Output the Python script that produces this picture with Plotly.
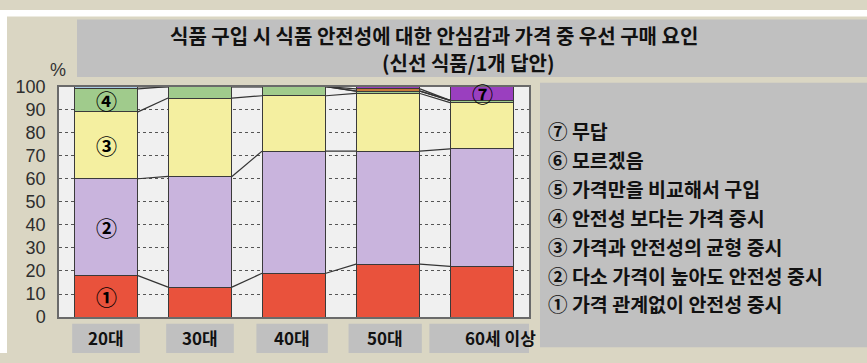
import plotly.graph_objects as go

# Age groups and response shares (%)
ages = ["20대", "30대", "40대", "50대", "60세 이상"]
s1 = [18, 13, 19, 23, 22]   # 가격 관계없이 안전성 중시
s2 = [42, 48, 53, 49, 51]   # 다소 가격이 높아도 안전성 중시
s3 = [29, 34, 24, 25, 20]   # 가격과 안전성의 균형 중시
s4 = [10, 5, 4, 1, 1]       # 안전성 보다는 가격 중시
s5 = [1, 0, 0, 0, 0]        # 가격만을 비교해서 구입
s6 = [0, 0, 0, 1, 0]        # 모르겠음
s7 = [0, 0, 0, 1, 6]        # 무답

marks = ["①", "②", "③", "④", "⑤", "⑥", "⑦"]
labels = [
    "가격 관계없이 안전성 중시",
    "다소 가격이 높아도 안전성 중시",
    "가격과 안전성의 균형 중시",
    "안전성 보다는 가격 중시",
    "가격만을 비교해서 구입",
    "모르겠음",
    "무답",
]
y_ticks = list(range(0, 101, 10))

series = [s1, s2, s3, s4, s5, s6, s7]
colors = ["#e9523c", "#c9b4dd", "#f4efa0", "#a0cb8c", "#a9c9e4", "#c57a3a", "#9a3fbf"]

W, H = 867, 363
BAR_W = 0.68
BG = "#dad6c3"
BOX = "#c0c0c0"
INK = "#111111"
FONT_KR = "Noto Sans CJK KR"


def fx(px):
    return px / W


def fy(py):
    return 1 - py / H


xs = list(range(len(ages)))
fig = go.Figure()

for vals, col, mk in zip(series, colors, marks):
    fig.add_trace(go.Bar(
        x=xs, y=vals, width=BAR_W, marker=dict(color=col, line=dict(color="#3a3a3a", width=1)),
        name=mk, showlegend=False, hoverinfo="skip",
    ))

# series lines joining segment boundaries of neighbouring bars
cum = []
run = [0] * len(ages)
for vals in series:
    run = [a + b for a, b in zip(run, vals)]
    cum.append(run)
for level in cum[:-1]:
    for i in range(len(ages) - 1):
        fig.add_trace(go.Scatter(
            x=[i + BAR_W / 2, i + 1 - BAR_W / 2], y=[level[i], level[i + 1]],
            mode="lines", line=dict(color="#333333", width=1.2),
            showlegend=False, hoverinfo="skip",
        ))

shapes = [
    # white page edge at top and left
    dict(type="rect", xref="paper", yref="paper", x0=0, x1=1, y0=fy(7), y1=1,
         fillcolor="#ffffff", line=dict(width=0), layer="below"),
    dict(type="rect", xref="paper", yref="paper", x0=0, x1=fx(7), y0=0, y1=1,
         fillcolor="#ffffff", line=dict(width=0), layer="below"),
    # title box
    dict(type="rect", xref="paper", yref="paper", x0=fx(77), x1=1, y0=fy(71), y1=fy(10),
         fillcolor=BOX, line=dict(width=0), layer="below"),
    # legend box
    dict(type="rect", xref="paper", yref="paper", x0=fx(540), x1=1, y0=fy(357), y1=fy(77),
         fillcolor=BOX, line=dict(width=0), layer="below"),
]

annotations = [
    dict(text="<b>식품 구입 시 식품 안전성에 대한 안심감과 가격 중 우선 구매 요인</b>", xref="paper", yref="paper",
         x=fx(434), y=fy(27), showarrow=False, font=dict(family=FONT_KR, size=20, color=INK),
         xanchor="center", yanchor="middle"),
    dict(text="<b>(신선 식품/1개 답안)</b>", xref="paper", yref="paper",
         x=fx(468), y=fy(56), showarrow=False, font=dict(family=FONT_KR, size=20, color=INK),
         xanchor="center", yanchor="middle"),
    dict(text="%", xref="paper", yref="paper", x=fx(58), y=fy(63), showarrow=False,
         font=dict(family="Liberation Sans", size=18, color="#333333"), xanchor="center", yanchor="middle"),
]

# category label boxes under each bar
box_half = [0.36, 0.36, 0.36, 0.36, 0.36]
box_extra_right = [0, 0, 0, 0, 0.6]
box_extra_left = [0, 0, 0.04, 0.06, 0.2]
for i, name in enumerate(ages):
    x0 = i - box_half[i] - box_extra_left[i]
    x1 = i + box_half[i] + box_extra_right[i]
    shapes.append(dict(type="rect", xref="x", yref="paper", x0=x0, x1=x1, y0=0, y1=fy(332),
                       fillcolor=BOX, line=dict(width=0), layer="below"))
    annotations.append(dict(text=f"<b>{name}</b>", xref="x", yref="paper", x=(x0 + x1) / 2, y=fy(347),
                            showarrow=False, font=dict(family=FONT_KR, size=17, color=INK),
                            xanchor="center", yanchor="middle"))

# legend entries, listed from ⑦ at the top down to ①
for k, idx in enumerate(range(len(labels) - 1, -1, -1)):
    annotations.append(dict(text=f"<b>{marks[idx]} {labels[idx]}</b>", xref="paper", yref="paper",
                            x=fx(546), y=fy(128 + 30.5 * k), showarrow=False,
                            font=dict(family=FONT_KR, size=19.5, color=INK),
                            xanchor="left", yanchor="middle"))

# segment markers inside bars
tags = [(0, 0), (1, 0), (2, 0), (3, 0), (6, 4)]
for si, bi in tags:
    top = cum[si][bi]
    mid = top - series[si][bi] / 2
    annotations.append(dict(text=f"<b>{marks[si]}</b>", x=xs[bi], y=mid, xref="x", yref="y",
                            showarrow=False, font=dict(family=FONT_KR, size=21, color="#000000"),
                            xanchor="center", yanchor="middle"))

fig.update_layout(
    width=W, height=H, autosize=False,
    margin=dict(l=0, r=0, t=0, b=0),
    paper_bgcolor=BG, plot_bgcolor="#f0f0f0",
    barmode="stack",
    shapes=shapes, annotations=annotations,
    xaxis=dict(domain=[fx(59), fx(529)], range=[-0.5, len(ages) - 0.5], showticklabels=False,
               showgrid=False, zeroline=False, showline=True, mirror=True,
               linecolor="#6a6a6a", linewidth=1.5, ticks=""),
    yaxis=dict(domain=[fy(325), fy(81)], range=[0, 100], tickvals=y_ticks,
               tickfont=dict(family="Liberation Sans", size=18, color="#2e2e2e"),
               showgrid=True, gridcolor="#555555", griddash="dot", gridwidth=1,
               zeroline=False, showline=True, mirror=True, linecolor="#6a6a6a", linewidth=1.5,
               ticks="", ticklabelstandoff=8),
)

fig.write_html("out.html")
